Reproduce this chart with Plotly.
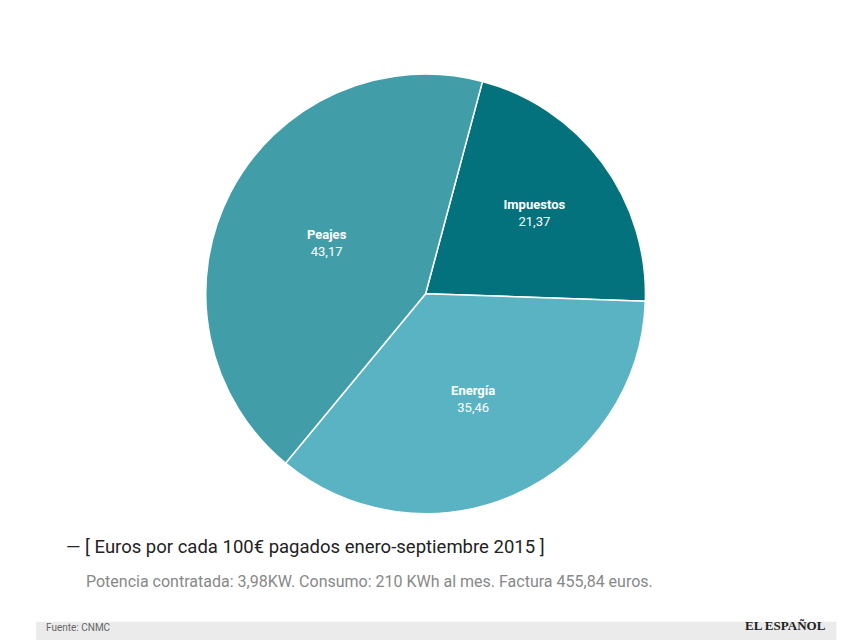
import plotly.graph_objects as go

labels = ["Impuestos", "Energía", "Peajes"]
values = [21.37, 35.46, 43.17]
value_text = ["21,37", "35,46", "43,17"]
colors = ["#04727c", "#5ab3c2", "#419ea9"]

fig = go.Figure(go.Pie(
    labels=labels, values=values, text=value_text,
    sort=False, direction="clockwise", rotation=15,
    marker=dict(colors=colors, line=dict(color="white", width=1.5)),
    texttemplate="<b>%{label}</b><br>%{text}", textposition="inside",
    insidetextorientation="horizontal",
    textfont=dict(family="Roboto", size=13, color="white"),
    domain=dict(x=[0.231, 0.747], y=[0.21, 0.897]),
    hoverinfo="label+value", showlegend=False,
))

fig.add_shape(type="rect", xref="paper", yref="paper", x0=0.033, x1=0.97,
              y0=0, y1=0.041, fillcolor="#ebebeb", line_width=0, layer="below")
fig.add_annotation(x=0.066, y=0.138, xref="paper", yref="paper", xanchor="left",
                   showarrow=False, text="— [ Euros por cada 100€ pagados enero-septiembre 2015 ]",
                   font=dict(family="Roboto", size=18.5, color="#222"))
fig.add_annotation(x=0.089, y=0.086, xref="paper", yref="paper", xanchor="left",
                   showarrow=False,
                   text="Potencia contratada: 3,98KW. Consumo: 210 KWh al mes. Factura 455,84 euros.",
                   font=dict(family="Roboto", size=16, color="#888"))
fig.add_annotation(x=0.042, y=0.021, xref="paper", yref="paper", xanchor="left",
                   showarrow=False, text="Fuente: CNMC",
                   font=dict(family="Roboto", size=10, color="#666"))
fig.add_annotation(x=0.96, y=0.021, xref="paper", yref="paper", xanchor="right",
                   showarrow=False, text="<b>EL ESPAÑOL</b>",
                   font=dict(family="Liberation Serif", size=13, color="#222"))

fig.update_layout(width=854, height=640, margin=dict(l=0, r=0, t=0, b=0),
                  paper_bgcolor="white")
fig.write_html("out.html")
